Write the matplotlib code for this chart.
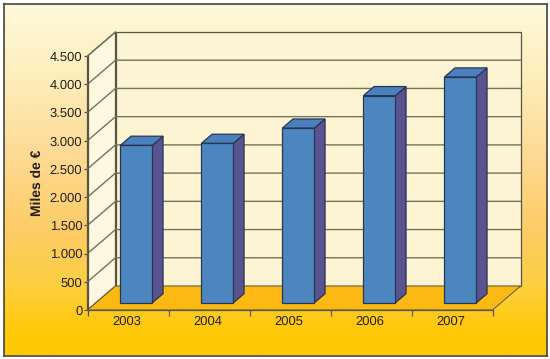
import matplotlib
matplotlib.use("Agg")
import matplotlib.pyplot as plt
import numpy as np
from matplotlib.colors import LinearSegmentedColormap

years = ["2003", "2004", "2005", "2006", "2007"]
values = [2790, 2825, 3095, 3670, 4000]
y_ticks = [0, 500, 1000, 1500, 2000, 2500, 3000, 3500, 4000, 4500]
y_labels = ["0", "500", "1.000", "1.500", "2.000", "2.500", "3.000", "3.500", "4.000", "4.500"]

plt.rcParams["font.family"] = ["Liberation Sans", "DejaVu Sans"]
plt.rcParams["text.hinting"] = "none"
W, H = 550, 359
text_col = "#231f1a"
line_col = "#5a5543"
grid_col = "#77725c"
edge_col = "#2a3550"

fig = plt.figure(figsize=(W / 100, H / 100), dpi=100, facecolor="white")

# background panel with vertical gradient
bg = fig.add_axes([3.5 / W, 1 - 355.5 / H, 543 / W, 352 / H])
cmap = LinearSegmentedColormap.from_list(
    "bg", [(0, "#fef9dc"), (0.18, "#fdf0c0"), (0.42, "#fddb96"), (0.66, "#fdcb62"),
           (0.8, "#fed042"), (0.92, "#ffc90c"), (1, "#ffc800")])
bg.imshow(np.linspace(0, 1, 256).reshape(-1, 1), cmap=cmap, aspect="auto", vmin=0, vmax=1)
bg.set_xticks([])
bg.set_yticks([])
for s in bg.spines.values():
    s.set_color("#45443c")
    s.set_linewidth(1.2)

# front plane of the chart, everything else is offset from it
ax = fig.add_axes([87.5 / W, 1 - 310 / H, 405 / W, 254 / H])
ax.patch.set_alpha(0)
ax.set_xlim(0, 5)
ax.set_ylim(0, 4500)

# depth of the 3d box in data units
dx = 28 / 81
dy = 24 / 254 * 4500

# walls and floor
ax.fill([dx, 5 + dx, 5 + dx, dx], [dy, dy, 4500 + dy, 4500 + dy], fc="#fcf4d2",
        ec=line_col, lw=0.9, clip_on=False, zorder=1)
ax.fill([0, dx, dx, 0], [0, dy, 4500 + dy, 4500], fc="#fdf8df",
        ec=line_col, lw=0.9, clip_on=False, zorder=1)
ax.fill([0, 5, 5 + dx, dx], [0, 0, dy, dy], fc="#fdb913",
        ec=line_col, lw=0.7, clip_on=False, zorder=2)

for t in y_ticks[1:-1]:
    ax.plot([0, dx, 5 + dx], [t, t + dy, t + dy], color=grid_col, lw=1,
            clip_on=False, zorder=2)
ax.plot([0, dx], [4500, 4500 + dy], color=grid_col, lw=1, clip_on=False, zorder=2)

# bars
d0 = 0.3
d1 = 0.68
bar_w = 0.395
for i, v in enumerate(values):
    x0 = i + 0.5 + d0 * dx - bar_w / 2
    x1 = x0 + bar_w
    b0 = d0 * dy
    sx = (d1 - d0) * dx
    sy = (d1 - d0) * dy
    ax.fill([x1, x1 + sx, x1 + sx, x1], [b0, b0 + sy, b0 + sy + v, b0 + v], fc="#59548f",
            ec=edge_col, lw=0.9, clip_on=False, zorder=3, joinstyle="miter")
    ax.fill([x0, x0 + sx, x1 + sx, x1], [b0 + v, b0 + v + sy, b0 + v + sy, b0 + v], fc="#4a80bd",
            ec=edge_col, lw=0.9, clip_on=False, zorder=3, joinstyle="miter")
    ax.fill([x0, x1, x1, x0], [b0, b0, b0 + v, b0 + v], fc="#4c86bf",
            ec=edge_col, lw=0.9, clip_on=False, zorder=4, joinstyle="miter")

# axes
for s in ["top", "right"]:
    ax.spines[s].set_visible(False)
for s in ["left", "bottom"]:
    ax.spines[s].set_color(line_col)
    ax.spines[s].set_linewidth(0.9)
    ax.spines[s].set_zorder(5)
ax.set_yticks(y_ticks, y_labels)
ax.set_xticks(range(6))
ax.set_xticklabels([])
ax.set_xticks(np.arange(5) + 0.485, years, minor=True)
ax.tick_params(axis="x", which="major", length=4, width=0.9, color=line_col)
ax.tick_params(axis="x", which="minor", length=0, pad=4, labelsize=9.4, labelcolor=text_col)
ax.tick_params(axis="y", length=3, width=0.9, color=line_col, pad=0.8, labelsize=9.4, labelcolor=text_col)
ax.set_ylabel("Miles de €", fontsize=10, fontweight="bold", color=text_col, labelpad=4.5)

fig.savefig("out.png", dpi=100)
